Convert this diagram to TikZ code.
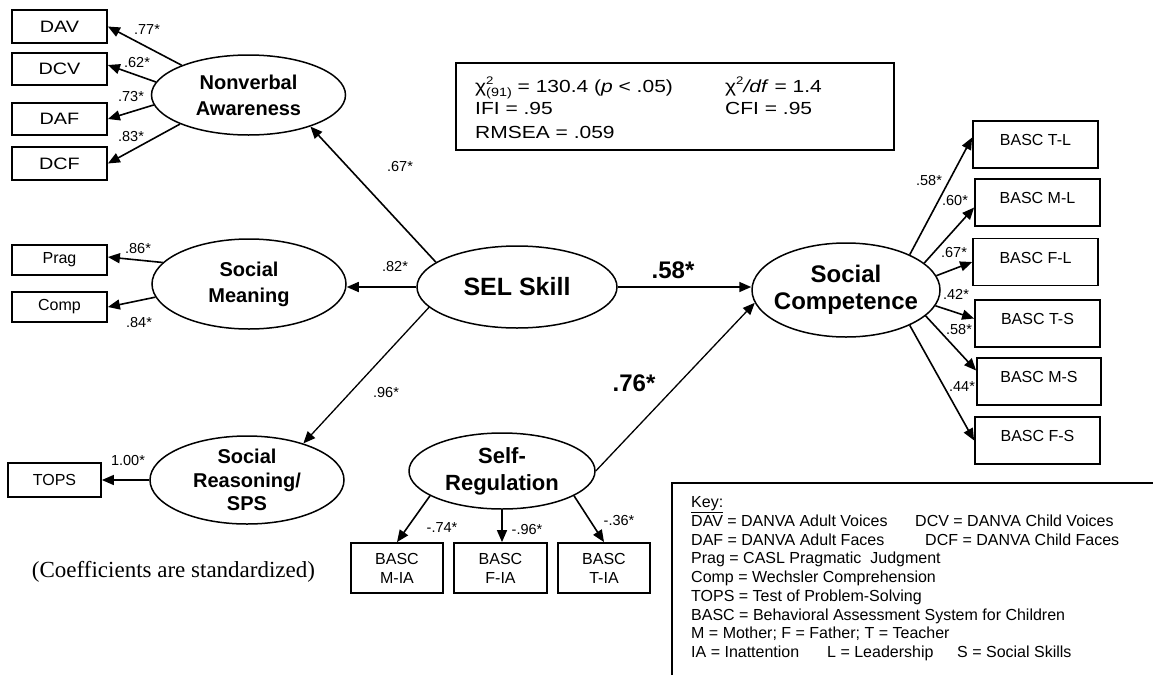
\documentclass[tikz,border=0pt]{standalone}
\usepackage{fontspec}
\setmainfont{Liberation Sans}
\newfontfamily\seriff{Liberation Serif}
\newfontfamily\widefont[FakeStretch=1.2]{Liberation Sans}
\usetikzlibrary{shapes.geometric,arrows.meta,calc}
\newcommand\fsz[2]{\fontsize{#1}{#2}\selectfont}
\begin{document}
\begin{tikzpicture}[x=1pt,y=-1pt,
  lat/.style={ellipse, draw, line width=1.5pt, inner sep=0pt, align=center, font=\bfseries\fsz{20}{26}},
  obs/.style={draw, line width=1.8pt, inner sep=0pt, align=center, font=\fsz{16}{19}},
  dobs/.style={obs, minimum width=95pt, font=\widefont\fsz{16.5}{19}},
  rbox/.style={obs, minimum width=125pt, minimum height=47pt, text height=11.5pt, text depth=9pt},
  bbox/.style={obs, minimum width=92pt, minimum height=50pt},
  arr/.style={line width=1.6pt, -{Triangle[length=12pt,width=10pt]}},
  thinarr/.style={arr, line width=1.3pt},
  coef/.style={font=\fsz{14.5}{17}, inner sep=0pt},
  bigcoef/.style={font=\bfseries\fsz{24}{28}, inner sep=0pt},
  keytxt/.style={font=\fsz{16}{19}, anchor=base west, inner sep=0pt},
  fittxt/.style={font=\widefont\fsz{17.5}{20}, anchor=base west, inner sep=0pt}]
\useasboundingbox (0,0) rectangle (1153,675);

% observed boxes, left
\node[dobs, minimum height=33pt] (dav) at (59.5,26.5) {DAV};
\node[dobs, minimum height=32pt] (dcv) at (59.5,69) {DCV};
\node[dobs, minimum height=32pt] (daf) at (59.5,119) {DAF};
\node[dobs, minimum height=33pt] (dcf) at (59.5,163.5) {DCF};
\node[obs, minimum width=95pt, minimum height=30pt] (prag) at (59.5,260) {Prag};
\node[obs, minimum width=95pt, minimum height=30pt] (comp) at (59.5,307) {Comp};
\node[obs, minimum width=93pt, minimum height=34pt] (tops) at (54.5,480) {TOPS};

% latent variables
\node[lat, minimum width=194pt, minimum height=80pt] (nv) at (248.5,95) {Nonverbal\\Awareness};
\node[lat, minimum width=194pt, minimum height=90pt] (sm) at (249,284) {Social\\Meaning};
\node[lat, minimum width=194pt, minimum height=88pt, font=\bfseries\fsz{20}{23.5}] (srs) at (247,480) {Social\\Reasoning/\\SPS};
\node[lat, minimum width=200pt, minimum height=82pt, font=\bfseries\fsz{25}{30}] (sel) at (517,287) {SEL Skill};
\node[lat, minimum width=186pt, minimum height=76pt, font=\bfseries\fsz{22}{27}] (sr) at (502,471) {Self-\\Regulation};
\node[lat, minimum width=188pt, minimum height=94pt, inner xsep=-7pt, font=\bfseries\fsz{24}{27}] (sc) at (846,290) {Social\\Competence};

% right boxes
\node[rbox] (tl) at (1035.5,144.5) {BASC T-L};
\node[rbox] (ml) at (1037.5,202.5) {BASC M-L};
\node[rbox] (fl) at (1035.5,262) {BASC F-L};
\node[rbox] (ts) at (1037.5,323.5) {BASC T-S};
\node[rbox, minimum width=124pt] (ms) at (1039,381.5) {BASC M-S};
\node[rbox] (fs) at (1037.5,440.5) {BASC F-S};

% bottom boxes
\node[bbox] (mia) at (397,568) {BASC\\M-IA};
\node[bbox, minimum width=93pt] (fia) at (500.5,568) {BASC\\F-IA};
\node[bbox] (tia) at (604,568) {BASC\\T-IA};

% paths
\draw[arr] (nv.156.4) -- (dav.east);
\draw[arr] (nv.172.7) -- ([yshift=4pt]dcv.east);
\draw[arr] (nv.186) -- (daf.east);
\draw[arr] (nv.203.6) -- (dcf.east);
\draw[arr] (sm.166.8) -- ([yshift=3pt]prag.east);
\draw[arr] (sm.188.3) -- (comp.east);
\draw[arr] (srs.180) -- (srs.180 -| tops.east);
\draw[arr] (sel.163) -- (nv.-27.5);
\draw[arr] (sel.west) -- (sel.west -| sm.east);
\draw[thinarr] (sel.193) -- (srs.33);
\draw[arr] (sel.east) -- (sel.east -| sc.west);
\draw[thinarr] (sr.east) -- (sc.188);
\draw[arr] (sr.199) -- (mia.north);
\draw[arr] (sr.south) -- (sr.south |- fia.north);
\draw[arr] (sr.341) -- (tia.north);
\draw[arr] (sc.29) -- ([yshift=7pt]tl.west);
\draw[arr] (sc.19) -- ([yshift=-5pt]ml.west);
\draw[arr] (sc.9) -- (fl.west);
\draw[arr] (sc.-10) -- ([yshift=5pt]ts.west);
\draw[arr] (sc.-18.4) -- ([yshift=11pt]ms.west);
\draw[arr] (sc.-29) -- (fs.west);

% coefficients
\node[coef] (c1) at (147,30) {.77*};
\node[coef] (c2) at (137,63) {.62*};
\node[coef] (c3) at (131,97) {.73*};
\node[coef] (c4) at (131,137) {.83*};
\node[coef] (c5) at (138,249) {.86*};
\node[coef] (c6) at (139,323) {.84*};
\node[coef] (c7) at (400,167) {.67*};
\node[coef] (c8) at (395,267) {.82*};
\node[coef] (c9) at (386,393) {.96*};
\node[coef] (c10) at (128,460) {1.00*};
\node[coef] (c11) at (442,528) {-.74*};
\node[coef] (c12) at (527,529) {-.96*};
\node[coef] (c13) at (619,520) {-.36*};
\node[coef] (c14) at (929,181) {.58*};
\node[coef] (c15) at (955,201) {.60*};
\node[coef] (c16) at (954,253) {.67*};
\node[coef] (c17) at (956,294) {.42*};
\node[coef] (c18) at (959,330) {.58*};
\node[coef] (c19) at (962,387) {.44*};
\node[bigcoef] (b1) at (673,270) {.58*};
\node[bigcoef] (b2) at (634,383) {.76*};

% fit box
\node[draw, line width=1.8pt, minimum width=438pt, minimum height=87pt, inner sep=0pt] (fitbox) at (675,106.5) {};
\node[fittxt] (f1) at (475,92) {χ\rlap{\raisebox{7.5pt}{\fsz{11}{11}2}}\raisebox{-4pt}{\fsz{12}{12}(91)} = 130.4 (\textit{p} < .05)};
\node[fittxt] (f2) at (725,92) {χ\raisebox{7.5pt}{\fsz{11}{11}2}\textit{/df} = 1.4};
\node[fittxt] (f3) at (475,114) {IFI = .95};
\node[fittxt] (f4) at (725,114) {CFI = .95};
\node[fittxt] (f5) at (475,138) {RMSEA = .059};

% note
\node[font=\seriff\fsz{23}{26}, inner sep=0pt] (note) at (173.5,572) {(Coefficients are standardized)};

% key
\coordinate (kbl) at (672,675);
\coordinate (ktl) at (672,483);
\coordinate (ktr) at (1153,483);
\draw[line width=1.8pt] (kbl) -- (ktl) -- (ktr);
\node[keytxt] (k0) at (691,507) {\underline{Key:}};
\node[keytxt] (k1) at (691,526) {DAV = DANVA Adult Voices};
\node[keytxt] (k1b) at (915,526) {DCV = DANVA Child Voices};
\node[keytxt] (k2) at (691,545) {DAF = DANVA Adult Faces};
\node[keytxt] (k2b) at (925,545) {DCF = DANVA Child Faces};
\node[keytxt] (k3) at (691,563) {Prag = CASL Pragmatic\ \ Judgment};
\node[keytxt] (k4) at (691,582) {Comp = Wechsler Comprehension};
\node[keytxt] (k5) at (691,601) {TOPS = Test of Problem-Solving};
\node[keytxt] (k6) at (691,620) {BASC = Behavioral Assessment System for Children};
\node[keytxt] (k7) at (691,638) {M = Mother; F = Father; T = Teacher};
\node[keytxt] (k8) at (691,657) {IA = Inattention};
\node[keytxt] (k8b) at (827,657) {L = Leadership};
\node[keytxt] (k8c) at (957,657) {S = Social Skills};
\end{tikzpicture}
\end{document}
